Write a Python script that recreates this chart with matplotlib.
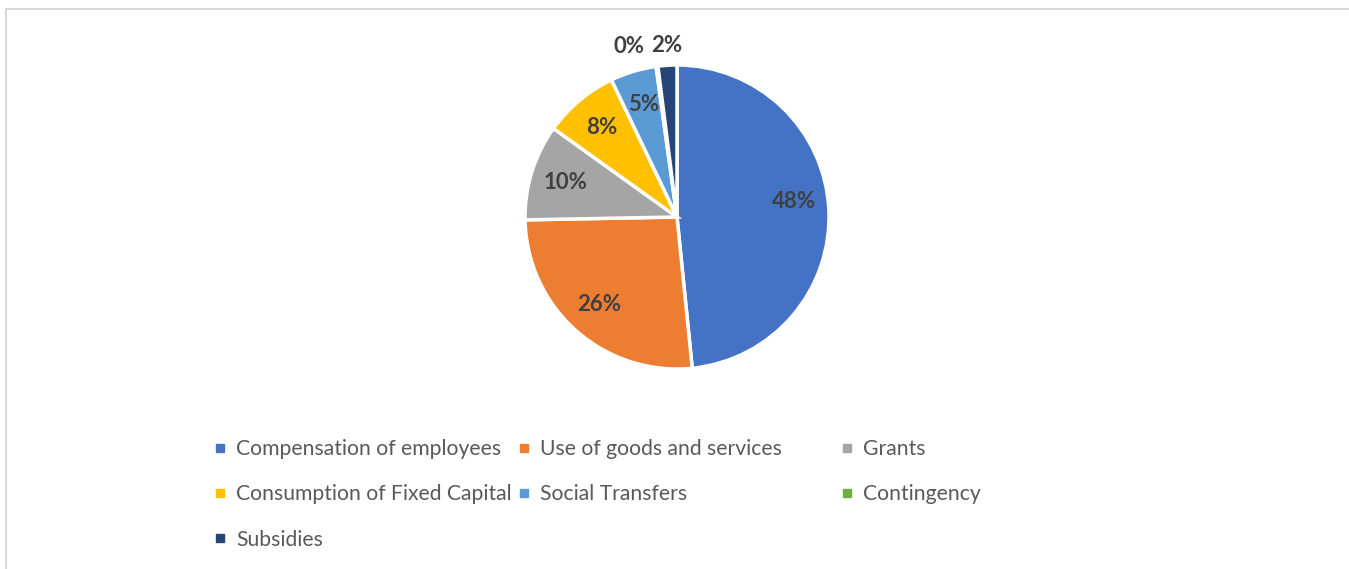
import numpy as np
import matplotlib.pyplot as plt
from matplotlib.patches import Rectangle
from matplotlib.lines import Line2D

plt.rcParams['font.family'] = ['Lato', 'DejaVu Sans']

# Datos del gráfico
categorias = ['Compensation of employees', 'Use of goods and services', 'Grants',
              'Consumption of Fixed Capital', 'Social Transfers', 'Contingency', 'Subsidies']
valores = [48.4, 26.3, 10.2, 8.0, 4.9, 0.2, 2.0]
etiquetas = ['48%', '26%', '10%', '8%', '5%', '0%', '2%']
colores = ['#4472C4', '#ED7D31', '#A5A5A5', '#FFC000', '#5B9BD5', '#70AD47', '#264478']

W, H = 1349, 569
fig = plt.figure(figsize=(W / 100, H / 100), dpi=100)

# marco gris del gráfico
fig.patches.append(Rectangle((6 / W, -0.2), 1.2, 1 - 9 / H + 0.2, transform=fig.transFigure,
                             fill=False, edgecolor='#D9D9D9', linewidth=1.5))

cx, cy, r = 677, 217, 152
ax = fig.add_axes([(cx - r) / W, 1 - (cy + r) / H, 2 * r / W, 2 * r / H])
wedges, _ = ax.pie(valores, colors=colores, startangle=90, counterclock=False,
                   wedgeprops=dict(edgecolor='white', linewidth=2.5))
ax.set_xlim(-1, 1)
ax.set_ylim(-1, 1)
ax.set_aspect('equal')
ax.axis('off')

# etiquetas de datos
for i, (w, lab) in enumerate(zip(wedges, etiquetas)):
    ang = np.deg2rad((w.theta1 + w.theta2) / 2)
    if valores[i] < 3:
        d = 1.13
        dx = -0.17 if i == 5 else 0.0
        dy = 0.0
    else:
        d = 0.77
        dx = 0.0
        dy = 0.06 if i == 0 else 0.0
    ax.text(d * np.cos(ang) + dx, d * np.sin(ang) + dy, lab, ha='center', va='center',
            fontsize=16, fontweight='bold', color='#404040')

# leyenda en tres columnas
columnas = [[0, 3, 6], [1, 4], [2, 5]]
xs = [213, 517, 840]
for col, x in zip(columnas, xs):
    handles = [Line2D([], [], marker='s', linestyle='none', markersize=6,
                      markerfacecolor=colores[k], markeredgecolor=colores[k]) for k in col]
    fig.legend(handles, [categorias[k] for k in col], loc='upper left',
               bbox_to_anchor=(x / W, 1 - 439 / H), frameon=False, fontsize=15.2,
               labelcolor='#595959', handlelength=0.7, handletextpad=0.4,
               labelspacing=1.2, borderaxespad=0, borderpad=0)

fig.savefig('out.png', dpi=100)
